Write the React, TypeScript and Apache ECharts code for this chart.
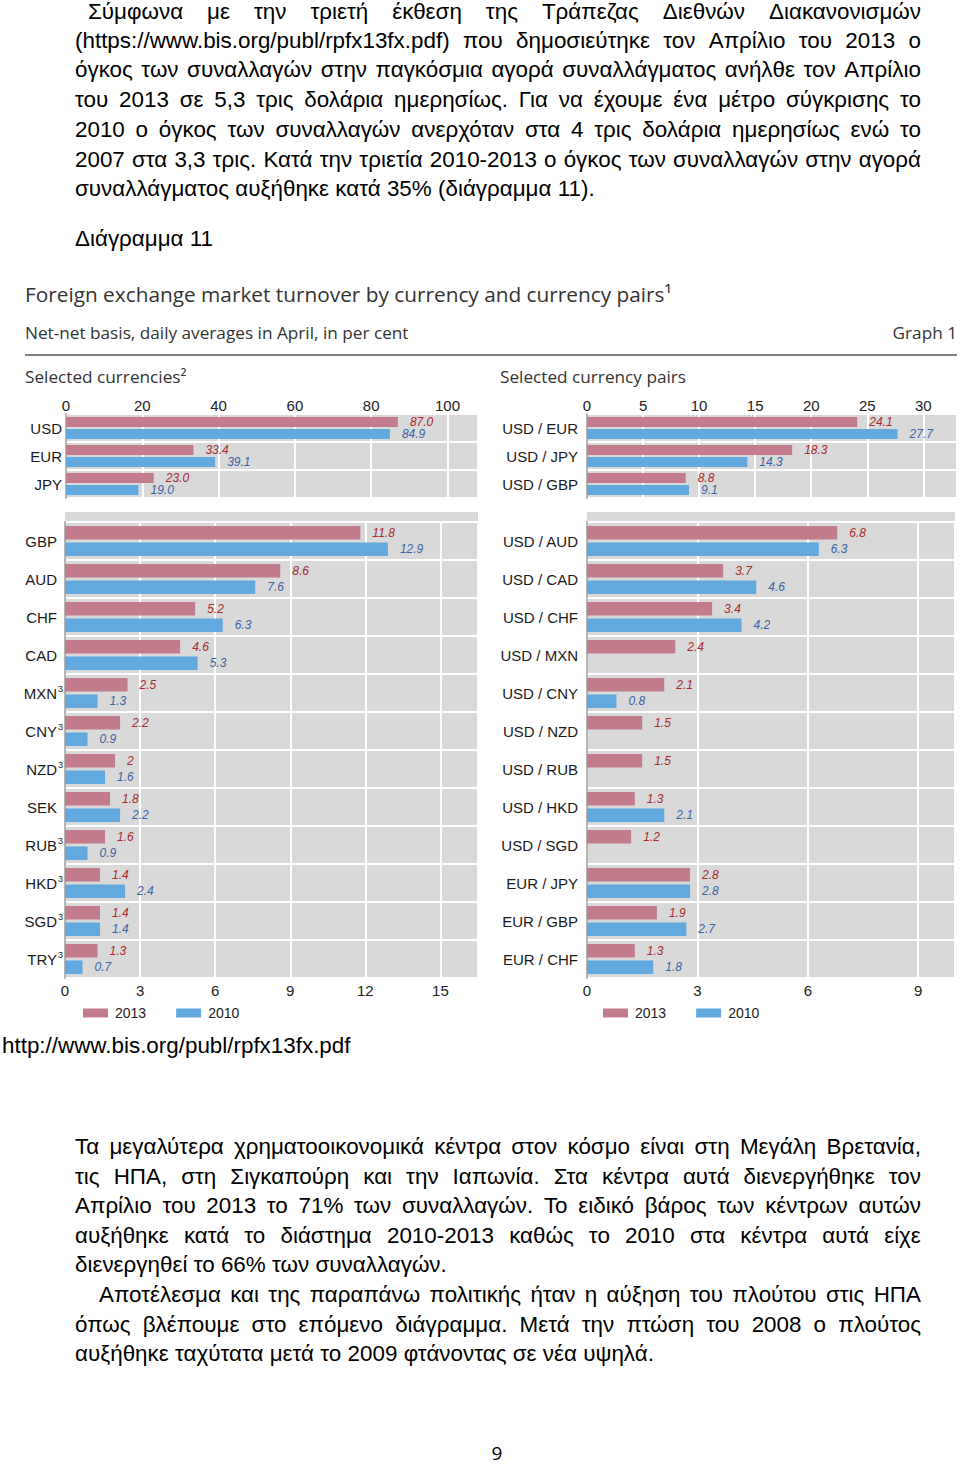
import React, { useEffect, useRef } from "react";
import * as echarts from "echarts";

// ---------- data ----------
const currenciesTop = ["USD", "EUR", "JPY"];
const currenciesTop2013 = [87.0, 33.4, 23.0];
const currenciesTop2010 = [84.9, 39.1, 19.0];

const currenciesBottom = ["GBP", "AUD", "CHF", "CAD", "MXN", "CNY", "NZD", "SEK", "RUB", "HKD", "SGD", "TRY"];
const currenciesBottomNote3 = ["MXN", "CNY", "NZD", "RUB", "HKD", "SGD", "TRY"];
const currenciesBottom2013 = [11.8, 8.6, 5.2, 4.6, 2.5, 2.2, 2, 1.8, 1.6, 1.4, 1.4, 1.3];
const currenciesBottom2010 = [12.9, 7.6, 6.3, 5.3, 1.3, 0.9, 1.6, 2.2, 0.9, 2.4, 1.4, 0.7];

const pairsTop = ["USD / EUR", "USD / JPY", "USD / GBP"];
const pairsTop2013 = [24.1, 18.3, 8.8];
const pairsTop2010 = [27.7, 14.3, 9.1];

const pairsBottom = [
  "USD / AUD", "USD / CAD", "USD / CHF", "USD / MXN", "USD / CNY", "USD / NZD",
  "USD / RUB", "USD / HKD", "USD / SGD", "EUR / JPY", "EUR / GBP", "EUR / CHF",
];
const pairsBottom2013 = [6.8, 3.7, 3.4, 2.4, 2.1, 1.5, 1.5, 1.3, 1.2, 2.8, 1.9, 1.3];
const pairsBottom2010 = [6.3, 4.6, 4.2, null, 0.8, null, null, 2.1, null, 2.8, 2.7, 1.8];

const seriesNames = ["2013", "2010"];

const paragraphLines = [
  { text: "Σύμφωνα με την τριετή έκθεση της Τράπεζας Διεθνών Διακανονισμών", y: 12, left: 88, justify: true },
  { text: "(https://www.bis.org/publ/rpfx13fx.pdf) που δημοσιεύτηκε τον Απρίλιο του 2013 ο", y: 41, left: 75, justify: true },
  { text: "όγκος των συναλλαγών στην παγκόσμια αγορά συναλλάγματος ανήλθε τον Απρίλιο", y: 70, left: 75, justify: true },
  { text: "του 2013 σε 5,3 τρις δολάρια ημερησίως. Για να έχουμε ένα μέτρο σύγκρισης το", y: 100, left: 75, justify: true },
  { text: "2010 ο όγκος των συναλλαγών ανερχόταν στα 4 τρις δολάρια ημερησίως ενώ το", y: 130, left: 75, justify: true },
  { text: "2007 στα 3,3 τρις. Κατά την τριετία 2010-2013 ο όγκος των συναλλαγών στην αγορά", y: 160, left: 75, justify: true },
  { text: "συναλλάγματος αυξήθηκε κατά 35% (διάγραμμα 11).", y: 189, left: 75, justify: false },
  { text: "Διάγραμμα 11", y: 239, left: 75, justify: false },
  { text: "Τα μεγαλύτερα χρηματοοικονομικά κέντρα στον κόσμο είναι στη Μεγάλη Βρετανία,", y: 1147, left: 75, justify: true },
  { text: "τις ΗΠΑ, στη Σιγκαπούρη και την Ιαπωνία. Στα κέντρα αυτά διενεργήθηκε τον", y: 1177, left: 75, justify: true },
  { text: "Απρίλιο του 2013 το 71% των συναλλαγών. Το ειδικό βάρος των κέντρων αυτών", y: 1206, left: 75, justify: true },
  { text: "αυξήθηκε κατά το διάστημα 2010-2013 καθώς το 2010 στα κέντρα αυτά είχε", y: 1236, left: 75, justify: true },
  { text: "διενεργηθεί το 66% των συναλλαγών.", y: 1265, left: 75, justify: false },
  { text: "Αποτέλεσμα και της παραπάνω πολιτικής ήταν η αύξηση του πλούτου στις ΗΠΑ", y: 1295, left: 99, justify: true },
  { text: "όπως βλέπουμε στο επόμενο διάγραμμα. Μετά την πτώση του 2008 ο πλούτος", y: 1325, left: 75, justify: true },
  { text: "αυξήθηκε ταχύτατα μετά το 2009 φτάνοντας σε νέα υψηλά.", y: 1354, left: 75, justify: false },
];

const PINK = "#c27c8c";
const BLUE = "#62a9e0";
const RED_LABEL = "#a8282c";
const BLUE_LABEL = "#3a62a6";
const BG = "#d9d9d9";
const FONT = "'Liberation Sans', Arial, sans-serif";
const TITLE_FONT = "'Open Sans', Lato, sans-serif";
const TEXT_SIZE = 22.4;

function App() {
  const ref = useRef<HTMLDivElement>(null);

  useEffect(() => {
    if (!ref.current) return;
    const chart = echarts.init(ref.current, undefined, { renderer: "svg" });

    const grids = [
      { left: 66, top: 414, width: 412, height: 84 },
      { left: 65, top: 522, width: 413, height: 456 },
      { left: 587, top: 414, width: 370, height: 84 },
      { left: 587, top: 522, width: 368, height: 456 },
    ];
    const xCfg = [
      { max: 108, interval: 20, position: "top", margin: 1 },
      { max: 16.5, interval: 3, position: "bottom", margin: 5 },
      { max: 33, interval: 5, position: "top", margin: 1 },
      { max: 10, interval: 3, position: "bottom", margin: 5 },
    ];
    const cats = [currenciesTop, currenciesBottom, pairsTop, pairsBottom];
    const data2013 = [currenciesTop2013, currenciesBottom2013, pairsTop2013, pairsBottom2013];
    const data2010 = [currenciesTop2010, currenciesBottom2010, pairsTop2010, pairsBottom2010];
    const barW = [10, 13.5, 10, 13.5];
    const fmt = (i: number) => (p: any) => {
      const v = p.value;
      if (v == null) return "";
      return i === 0 ? Number(v).toFixed(1) : String(v);
    };

    const series: any[] = [];
    for (let i = 0; i < 4; i++) {
      series.push({
        name: seriesNames[0],
        type: "bar",
        xAxisIndex: i,
        yAxisIndex: i,
        data: data2013[i],
        barWidth: barW[i],
        barGap: "22%",
        itemStyle: { color: PINK },
        label: {
          show: true,
          position: "right",
          distance: 12,
          formatter: fmt(i),
          color: RED_LABEL,
          fontStyle: "italic",
          fontSize: 12,
          fontFamily: FONT,
        },
      });
      series.push({
        name: seriesNames[1],
        type: "bar",
        xAxisIndex: i,
        yAxisIndex: i,
        data: data2010[i],
        barWidth: barW[i],
        barGap: "22%",
        itemStyle: { color: BLUE },
        label: {
          show: true,
          position: "right",
          distance: 12,
          formatter: fmt(i),
          color: BLUE_LABEL,
          fontStyle: "italic",
          fontSize: 12,
          fontFamily: FONT,
        },
      });
    }

    const option: any = {
      animation: false,
      grid: grids.map((g) => ({ ...g, show: true, backgroundColor: BG, borderWidth: 0 })),
      xAxis: xCfg.map((c, i) => ({
        type: "value",
        gridIndex: i,
        min: 0,
        max: c.max,
        interval: c.interval,
        position: c.position,
        axisLine: { show: false },
        axisTick: { show: false },
        splitLine: { show: true, lineStyle: { color: "#ffffff", width: 2 } },
        axisLabel: {
          show: true,
          margin: c.margin,
          fontSize: 15,
          fontFamily: FONT,
          color: "#222",
          showMaxLabel: false,
          formatter: (v: number) => (Math.abs(v / c.interval - Math.round(v / c.interval)) < 1e-6 ? String(v) : ""),
        },
      })),
      yAxis: cats.map((c, i) => ({
        type: "category",
        gridIndex: i,
        data: c,
        inverse: true,
        axisLine: { show: true, lineStyle: { color: "#b5b5b5", width: 2 } },
        axisTick: { show: false },
        splitLine: { show: true, interval: 0, lineStyle: { color: "#ffffff", width: 2 } },
        axisLabel: {
          interval: 0,
          margin: i === 0 ? 4 : i === 1 ? 2 : 9,
          fontSize: 15,
          fontFamily: FONT,
          color: "#1a1a1a",
          formatter:
            i === 1
              ? (v: string) => (currenciesBottomNote3.includes(v) ? `{n|${v}}{s|3}` : `{n|${v}}{s| }`)
              : undefined,
          rich:
            i === 1
              ? {
                  n: { fontSize: 15, fontFamily: FONT, color: "#1a1a1a" },
                  s: { fontSize: 9, fontFamily: FONT, color: "#1a1a1a", width: 6, verticalAlign: "top", padding: [0, 0, 9, 0] },
                }
              : undefined,
        },
      })),
      legend: [
        { left: 83, top: 1006 },
        { left: 603, top: 1006 },
      ].map((l) => ({
        ...l,
        padding: 0,
        data: seriesNames,
        icon: "rect",
        itemWidth: 25,
        itemHeight: 9,
        itemGap: 30,
        textStyle: { fontSize: 14, fontFamily: FONT, color: "#222", padding: [0, 0, 0, 2] },
        selectedMode: false,
      })),
      graphic: [
        { type: "rect", shape: { x: 65, y: 512, width: 413, height: 10 }, style: { fill: BG }, z: -1 },
        { type: "rect", shape: { x: 587, y: 512, width: 368, height: 10 }, style: { fill: BG }, z: -1 },
        {
          type: "text",
          x: 25,
          y: 294,
          style: {
            text: "Foreign exchange market turnover by currency and currency pairs¹",
            font: `20.8px ${TITLE_FONT}`,
            fill: "#333",
            textVerticalAlign: "middle",
          },
        },
        {
          type: "text",
          x: 25,
          y: 332,
          style: {
            text: "Net-net basis, daily averages in April, in per cent",
            font: `17.2px ${TITLE_FONT}`,
            fill: "#333",
            textVerticalAlign: "middle",
          },
        },
        {
          type: "text",
          x: 957,
          y: 332,
          style: { text: "Graph 1", font: `17.2px ${TITLE_FONT}`, fill: "#333", textAlign: "right", textVerticalAlign: "middle" },
        },
        { type: "line", shape: { x1: 25, y1: 355, x2: 957, y2: 355 }, style: { stroke: "#555", lineWidth: 1.5 } },
        {
          type: "text",
          x: 25,
          y: 376,
          style: { text: "Selected currencies²", font: `17.2px ${TITLE_FONT}`, fill: "#333", textVerticalAlign: "middle" },
        },
        {
          type: "text",
          x: 500,
          y: 376,
          style: { text: "Selected currency pairs", font: `17.2px ${TITLE_FONT}`, fill: "#333", textVerticalAlign: "middle" },
        },
        {
          type: "text",
          x: 497,
          y: 1453,
          style: { text: "9", font: `19px ${TITLE_FONT}`, fill: "#000", textAlign: "center", textVerticalAlign: "middle" },
        },
      ],
      series,
    };

    chart.setOption(option);
    return () => chart.dispose();
  }, []);

  return (
    <div style={{ position: "absolute", left: 0, top: 0, width: 960, height: 1465, background: "#fff", overflow: "hidden" }}>
      <div ref={ref} style={{ position: "absolute", left: 0, top: 0, width: 960, height: 1465 }} />
      {paragraphLines.map((l, i) => (
        <div
          key={i}
          style={{
            position: "absolute",
            left: l.left,
            top: l.y - 14,
            width: 921 - l.left,
            height: 28,
            lineHeight: "28px",
            fontFamily: FONT,
            fontSize: TEXT_SIZE,
            color: "#000",
            whiteSpace: "nowrap",
            display: "flex",
            justifyContent: l.justify ? "space-between" : "flex-start",
            gap: l.justify ? 0 : "0.28em",
            pointerEvents: "none",
          }}
        >
          {l.text.split(" ").map((w, j) => (
            <span key={j}>{w}</span>
          ))}
        </div>
      ))}
      <div
        style={{
          position: "absolute",
          left: 2,
          top: 1046 - 14,
          height: 28,
          lineHeight: "28px",
          fontFamily: FONT,
          fontSize: TEXT_SIZE,
          color: "#000",
          whiteSpace: "nowrap",
        }}
      >
        http://www.bis.org/publ/rpfx13fx.pdf
      </div>
    </div>
  );
}

export default App;
